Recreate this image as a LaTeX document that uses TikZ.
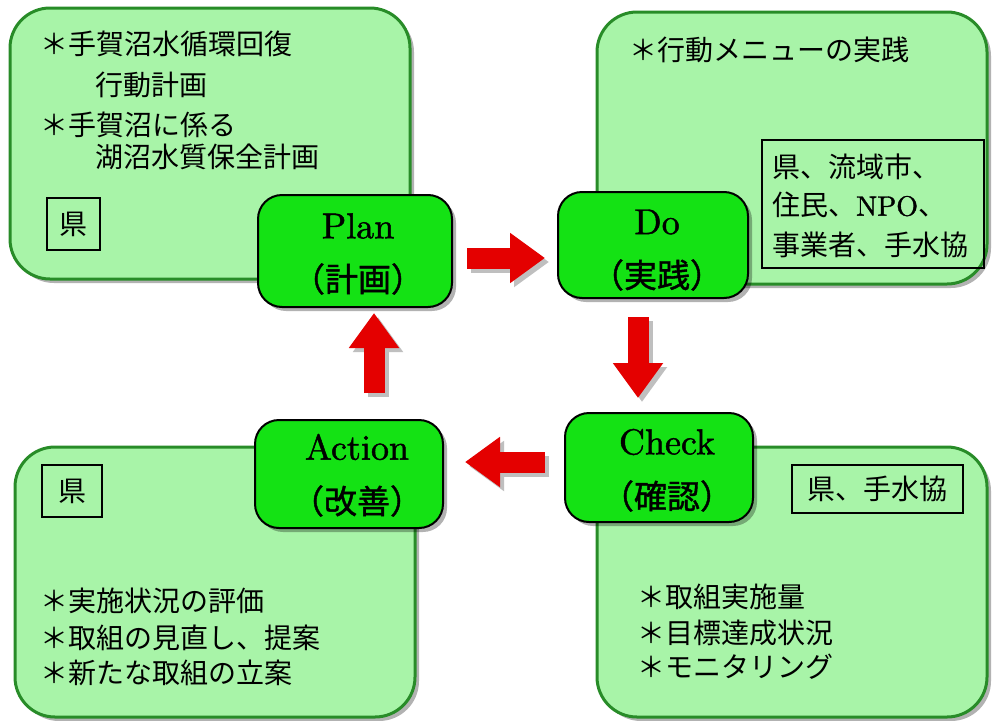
\documentclass[tikz,border=0pt]{standalone}
\usepackage{fontspec}
\newfontfamily\jp{Noto Sans CJK JP}
\newfontfamily\jpb{Noto Sans CJK JP}[FakeBold=1.2]
\newfontfamily\lat{lmroman10-regular.otf}[FakeBold=1.3]
\usetikzlibrary{shadows,arrows.meta}
\definecolor{lightg}{RGB}{168,244,168}
\definecolor{edgeg}{RGB}{40,140,40}
\definecolor{cylg}{RGB}{20,226,20}
\definecolor{arrred}{RGB}{228,0,0}
\tikzset{
 bigbox/.style={draw=edgeg, line width=3pt, fill=lightg, rounded corners=40pt,
   drop shadow={shadow xshift=4pt, shadow yshift=-4pt, opacity=0.3, fill=black}, inner sep=0pt},
 cyl/.style={draw=black, line width=2pt, fill=cylg, rounded corners=24pt,
   drop shadow={shadow xshift=4pt, shadow yshift=-4pt, opacity=0.3, fill=black}, inner sep=0pt},
 tagbox/.style={draw=black, line width=1.6pt, inner sep=0pt},
 jtxt/.style={inner sep=0pt, anchor=west, font=\jp\fontsize{28}{34}\selectfont},
 jmid/.style={inner sep=0pt, font=\jp\fontsize{28}{34}\selectfont},
 latin/.style={inner sep=0pt, font=\lat\fontsize{36}{40}\selectfont},
 jbig/.style={inner sep=0pt, font=\jpb\fontsize{33}{38}\selectfont},
 redarrow/.style={draw=arrred, line width=21pt, -{Triangle[width=48pt,length=35pt,fill=arrred]}},
 arrshadow/.style={draw=black!25, line width=21pt, -{Triangle[width=48pt,length=35pt,fill=black!25]},
   transform canvas={shift={(4pt,-4pt)}}}
}
\begin{document}
\begin{tikzpicture}[x=1pt,y=-1pt]
\path[fill=white] (0,0) rectangle (992,720);
\useasboundingbox (0,0) rectangle (992,720);

% big boxes
\node[bigbox, minimum width=400pt, minimum height=271pt] (boxP) at (210,143.5) {};
\node[bigbox, minimum width=390pt, minimum height=272pt] (boxD) at (792,148) {};
\node[bigbox, minimum width=400pt, minimum height=270pt] (boxA) at (215,582) {};
\node[bigbox, minimum width=390pt, minimum height=270pt] (boxC) at (792,582) {};

% Plan box contents
\node[jtxt] (p1) at (40,44) {＊手賀沼水循環回復};
\node[jtxt] (p2) at (95,85) {行動計画};
\node[jtxt] (p3) at (40,125) {＊手賀沼に係る};
\node[jtxt] (p4) at (95,157) {湖沼水質保全計画};
\node[tagbox, minimum width=53pt, minimum height=52pt] (ptag) at (73.5,224) {};
\node[jmid] (ptagt) at (73.5,224) {県};

% Do box contents
\node[jtxt] (d1) at (629,50) {＊行動メニューの実践};
\node[tagbox, minimum width=222pt, minimum height=128pt] (dtag) at (873,204) {};
\node[jtxt] (d2) at (772,167) {県、流域市、};
\node[jtxt] (d3) at (772,205) {住民、{\lat NPO}、};
\node[jtxt] (d4) at (772,245) {事業者、手水協};

% Action box contents
\node[tagbox, minimum width=60pt, minimum height=52pt] (atag) at (72,491) {};
\node[jmid] (atagt) at (72,491) {県};
\node[jtxt] (a1) at (40,601) {＊実施状況の評価};
\node[jtxt] (a2) at (40,638) {＊取組の見直し、提案};
\node[jtxt] (a3) at (40,673) {＊新たな取組の立案};

% Check box contents
\node[tagbox, minimum width=171pt, minimum height=48pt] (ctag) at (877.5,489) {};
\node[jmid] (ctagt) at (877.5,489) {県、手水協};
\node[jtxt] (c1) at (637,597) {＊取組実施量};
\node[jtxt] (c2) at (637,633) {＊目標達成状況};
\node[jtxt] (c3) at (637,667) {＊モニタリング};

% cylinders
\node[cyl, minimum width=194pt, minimum height=112pt] (plan) at (355,251) {};
\node[cyl, minimum width=190pt, minimum height=106pt] (do) at (653,245) {};
\node[cyl, minimum width=188pt, minimum height=108pt] (action) at (349,474) {};
\node[cyl, minimum width=188pt, minimum height=109pt] (check) at (659,467.5) {};

\node[latin] (planl) at (358,226) {Plan};
\node[jbig] (planj) at (358,279) {（計画）};
\node[latin] (dol) at (657,222) {Do};
\node[jbig] (doj) at (657,275) {（実践）};
\node[latin] (actionl) at (357,447) {Action};
\node[jbig] (actionj) at (357,501) {（改善）};
\node[latin] (checkl) at (667,442) {Check};
\node[jbig] (checkj) at (667,496) {（確認）};

% arrows
\coordinate (r1s) at (467,258);
\coordinate (r1e) at (545,258);
\coordinate (r2s) at (638,317);
\coordinate (r2e) at (638,398);
\coordinate (r3s) at (545,462);
\coordinate (r3e) at (465,462);
\coordinate (r4s) at (374,393);
\coordinate (r4e) at (374,313);
\foreach \s/\e in {r1s/r1e, r2s/r2e, r3s/r3e, r4s/r4e}{
  \draw[arrshadow] (\s) -- (\e);
  \draw[redarrow] (\s) -- (\e);
}
\end{tikzpicture}
\end{document}
